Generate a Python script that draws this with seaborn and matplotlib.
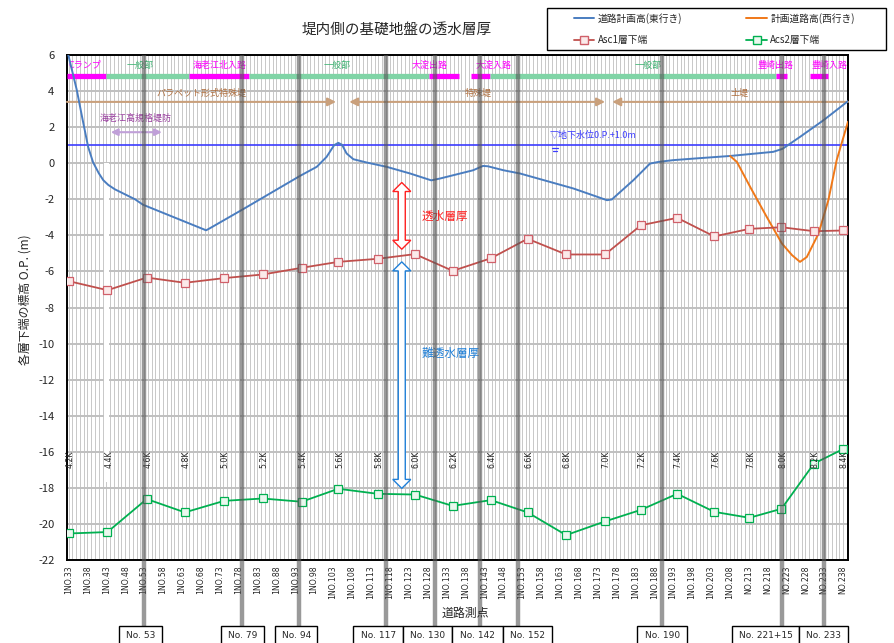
import matplotlib
matplotlib.use('Agg')
import matplotlib.pyplot as plt
import matplotlib.transforms as mtransforms
from matplotlib.patches import Polygon, Rectangle
from matplotlib.lines import Line2D
import seaborn as sns
import pandas as pd

# ---- data ----
k_stations = [33.1, 43.3, 53.7, 63.8, 74.2, 84.4, 94.7, 104.4, 114.8, 124.7, 134.7,
              144.8, 154.5, 164.7, 175.0, 184.5, 194.1, 203.9, 213.2, 221.7, 230.3, 238.0]
k_labels = ['4.2K', '4.4K', '4.6K', '4.8K', '5.0K', '5.2K', '5.4K', '5.6K', '5.8K', '6.0K', '6.2K',
            '6.4K', '6.6K', '6.8K', '7.0K', '7.2K', '7.4K', '7.6K', '7.8K', '8.0K', '8.2K', '8.4K']
asc1 = [-6.54, -7.04, -6.34, -6.63, -6.37, -6.17, -5.80, -5.47, -5.30, -5.04, -5.97,
        -5.27, -4.19, -5.06, -5.06, -3.44, -3.03, -4.06, -3.64, -3.55, -3.77, -3.73]
acs2 = [-20.53, -20.45, -18.62, -19.36, -18.72, -18.59, -18.77, -18.05, -18.33, -18.37, -19.00,
        -18.68, -19.36, -20.62, -19.86, -19.22, -18.33, -19.33, -19.66, -19.16, -16.65, -15.85]

east_st = [32.6, 35.2, 36.7, 38.2, 39.5, 41.0, 42.2, 43.5, 45.3, 50.6, 52.7, 68.6, 69.4, 70.3,
           79.2, 94.3, 98.7, 101.3, 103.3, 104.4, 105.4, 106.6, 108.4, 111.9, 117.2, 123.4,
           129.0, 131.3, 140.1, 142.7, 144.0, 148.1, 152.5, 166.6, 175.5, 176.8, 182.5, 186.9,
           189.1, 193.0, 200.0, 208.0, 219.5, 222.0, 226.6, 232.8, 239.3]
east_z = [6.3, 4.05, 2.45, 0.9, 0.05, -0.55, -0.94, -1.2, -1.45, -2.0, -2.3, -3.65, -3.72, -3.62,
          -2.55, -0.7, -0.2, 0.35, 1.0, 1.13, 1.02, 0.54, 0.22, 0.04, -0.2, -0.57,
          -0.95, -0.85, -0.39, -0.15, -0.17, -0.39, -0.57, -1.4, -2.05, -2.01, -0.94, -0.02,
          0.07, 0.17, 0.28, 0.4, 0.63, 0.8, 1.46, 2.38, 3.44]
west_st = [208.1, 209.9, 213.4, 217.8, 221.8, 224.5, 226.6, 228.4, 231.5, 234.1, 236.3, 239.3]
west_z = [0.4, 0.07, -1.31, -2.98, -4.45, -5.1, -5.47, -5.2, -3.9, -2.05, 0.17, 2.3]

tick_stations = list(range(33, 239, 5))
tick_labels = [('1NO.%d' if s <= 208 else 'NO.%d') % s for s in tick_stations]

key_stations = [53, 79, 94, 117, 130, 142, 152, 190, 221.75, 233]
key_names = ['No. 53', 'No. 79', 'No. 94', 'No. 117', 'No. 130', 'No. 142', 'No. 152',
             'No. 190', 'No. 221+15', 'No. 233']
key_box_left = [46.4, 73.4, 87.7, 108.4, 121.6, 134.5, 148.0, 183.5, 208.7, 226.2]
key_box_right = [57.7, 84.7, 98.8, 121.6, 134.5, 148.0, 161.0, 196.7, 226.2, 239.2]

bar_start = [32.7, 42.9, 64.9, 80.8, 128.4, 139.5, 144.6, 220.3, 229.3]
bar_end = [42.9, 64.9, 80.8, 128.4, 136.4, 144.6, 220.3, 223.2, 234.0]
bar_kind = ['ramp', 'gen', 'ramp', 'gen', 'ramp', 'ramp', 'gen', 'ramp', 'ramp']
sec_labels = ['Cランプ', '一般部', '海老江北入路', '一般部', '大淀出路', '大淀入路', '一般部', '豊崎出路', '豊崎入路']
sec_x = [32.9, 51.9, 73.0, 104.2, 128.6, 145.5, 186.4, 220.0, 239.2]
sec_kind = ['ramp', 'gen', 'ramp', 'gen', 'ramp', 'ramp', 'gen', 'ramp', 'ramp']

levee_labels = ['パラペット形式特殊堤', '特殊堤', '土堤']
levee_x = [68.1, 141.4, 210.7]
water_level = 1.0

BLUE = '#4a7dc0'
ORANGE = '#f07818'
RED = '#c0504d'
GREEN = '#00b050'
MAGENTA = '#ff00ff'
BARGREEN = '#80d4a6'
TAN = '#c9a07c'

sns.set_style('white')
plt.rcParams['font.family'] = ['Noto Sans CJK JP', 'DejaVu Sans']
plt.rcParams['axes.unicode_minus'] = False

fig = plt.figure(figsize=(8.95, 6.43), dpi=100)
ax = fig.add_axes([67 / 895, 1 - 560 / 643, 781 / 895, 505 / 643])

ax.set_xlim(32.6, 239.3)
ax.set_ylim(-22, 6)
ax.set_yticks(range(-22, 7, 2))
ax.set_xticks(tick_stations)
ax.set_xticklabels(tick_labels, rotation=90, fontsize=5.6, family='DejaVu Sans')
ax.set_xticks(range(33, 240), minor=True)
ax.tick_params(axis='y', length=0, pad=9, labelsize=8)
ax.tick_params(axis='x', which='both', direction='in', length=3, width=0.8, color='black', pad=4)
ax.yaxis.grid(True, color='#c0c0c0', lw=1.4)
ax.xaxis.grid(True, which='both', color='#c8c8c8', lw=0.7)
ax.set_axisbelow(True)
for sp in ax.spines.values():
    sp.set_color('black')
    sp.set_linewidth(1.4)

# white strip (label box artefact)
ax.add_patch(Rectangle((42.4, -17.7), 1.3, 17.7, fc='white', ec='none', zorder=1.5))

# water level
ax.axhline(water_level, color='#3c3cff', lw=1.2, zorder=2)
ax.text(160.4, 1.55, '▽地下水位0.P.+1.0m', color='#3c3cff', fontsize=6.5, va='center', ha='left')
ax.plot([160.9, 162.5], [0.82, 0.82], color='#3c3cff', lw=0.9)
ax.plot([161.2, 162.2], [0.7, 0.7], color='#3c3cff', lw=0.9)

# section bar
for s, e, k in zip(bar_start, bar_end, bar_kind):
    ax.plot([s, e], [4.83, 4.83], color=MAGENTA if k == 'ramp' else BARGREEN, lw=3.8,
            solid_capstyle='butt', zorder=3)
for t, x, k in zip(sec_labels, sec_x, sec_kind):
    ha = 'left' if x < 34 else ('right' if x > 238 else 'center')
    ax.text(x, 5.43, t, color=MAGENTA if k == 'ramp' else '#3cb371', fontsize=6.5,
            ha=ha, va='center', zorder=3)

# levee type arrows
ax.annotate('', xy=(103.8, 3.4), xytext=(32.6, 3.4),
            arrowprops=dict(arrowstyle='-|>', color=TAN, lw=1.5, mutation_scale=12, shrinkA=0, shrinkB=0))
ax.annotate('', xy=(175.0, 3.4), xytext=(107.3, 3.4),
            arrowprops=dict(arrowstyle='<|-|>', color=TAN, lw=1.5, mutation_scale=12, shrinkA=0, shrinkB=0))
ax.annotate('', xy=(176.9, 3.4), xytext=(239.3, 3.4),
            arrowprops=dict(arrowstyle='-|>', color=TAN, lw=1.5, mutation_scale=12, shrinkA=0, shrinkB=0))
for t, x in zip(levee_labels, levee_x):
    ax.text(x, 3.9, t, color='#b07040', fontsize=6.5, ha='center', va='center')

ax.text(50.9, 2.5, '海老江高規格堤防', color='#9a40a0', fontsize=6.5, ha='center', va='center')
ax.annotate('', xy=(57.7, 1.72), xytext=(44.2, 1.72),
            arrowprops=dict(arrowstyle='<|-|>', color='#c0a0d8', lw=1.5, mutation_scale=10, shrinkA=0, shrinkB=0))

# series
sns.lineplot(x=east_st, y=east_z, ax=ax, color=BLUE, lw=1.4, sort=False, zorder=4)
sns.lineplot(x=west_st, y=west_z, ax=ax, color=ORANGE, lw=1.4, sort=False, zorder=4)
df = pd.DataFrame({'st': k_stations, 'asc1': asc1, 'acs2': acs2})
sns.lineplot(data=df, x='st', y='asc1', ax=ax, color=RED, lw=1.3, marker='s', ms=5.5,
             markerfacecolor='#fbeaea', markeredgecolor='#d0606a', markeredgewidth=0.9, zorder=5)
sns.lineplot(data=df, x='st', y='acs2', ax=ax, color=GREEN, lw=1.3, marker='s', ms=5.5,
             markerfacecolor='#eaf8ee', markeredgecolor=GREEN, markeredgewidth=0.9, zorder=5)
ax.set_xlabel('')
ax.set_ylabel('')

for x, t in zip(k_stations, k_labels):
    ax.text(x + 0.3, -15.95, t, rotation=90, fontsize=5.6, family='DejaVu Sans',
            ha='center', va='top', zorder=6)


# hollow double arrows
def hollow_arrow(x, y0, y1, color):
    sx, sy = 1 / 3.778, 1 / 18.04
    hs, hh, hl = 3.5 * sx, 9 * sx, 9 * sy
    pts = [(x, y1), (x + hh, y1 - hl), (x + hs, y1 - hl), (x + hs, y0 + hl), (x + hh, y0 + hl),
           (x, y0), (x - hh, y0 + hl), (x - hs, y0 + hl), (x - hs, y1 - hl), (x - hh, y1 - hl)]
    ax.add_patch(Polygon(pts, closed=True, fc='white', ec=color, lw=1.0, zorder=6))


hollow_arrow(121.2, -4.77, -1.07, '#ff2020')
hollow_arrow(121.2, -18.03, -5.47, '#2080d8')
ax.text(126.5, -2.92, '透水層厚', color='#ff2020', fontsize=8.4, ha='left', va='center', zorder=6)
ax.text(126.5, -10.53, '難透水層厚', color='#2080d8', fontsize=8.4, ha='left', va='center', zorder=6)

# key station lines and boxes
blend = mtransforms.blended_transform_factory(ax.transData, ax.transAxes)
for s in key_stations:
    ax.plot([s, s], [-0.131, 1.0], transform=blend, color='#555555', alpha=0.6, lw=3.2,
            clip_on=False, zorder=7, solid_capstyle='butt')
for l, r, n in zip(key_box_left, key_box_right, key_names):
    ax.add_patch(Rectangle((l, -0.2), r - l, 0.069, transform=blend, fc='white', ec='black',
                           lw=1.0, clip_on=False, zorder=8))
    ax.text((l + r) / 2, -0.150, n, transform=blend, fontsize=6.5, family='DejaVu Sans',
            ha='center', va='center', zorder=9, clip_on=False)

fig.text(465 / 895, 1 - 613 / 643, '道路測点', fontsize=8.6, ha='center', va='center')
fig.text(25 / 895, 1 - 300 / 643, '各層下端の標高 O.P. (m)', fontsize=8.6, rotation=90,
         ha='center', va='center')
fig.text(396.5 / 895, 1 - 30 / 643, '堤内側の基礎地盤の透水層厚', fontsize=10.5,
         ha='center', va='center')

# legend: frame drawn separately, entries placed inside
fig.add_artist(Rectangle((547 / 895, 1 - 50 / 643), 339 / 895, 42 / 643, transform=fig.transFigure,
                         fc='white', ec='black', lw=1.0))
handles = [Line2D([], [], color=BLUE, lw=1.4),
           Line2D([], [], color=RED, lw=1.3, marker='s', ms=5.5, mfc='#fbeaea', mec='#d0606a'),
           Line2D([], [], color=ORANGE, lw=1.4),
           Line2D([], [], color=GREEN, lw=1.3, marker='s', ms=5.5, mfc='#eaf8ee', mec=GREEN)]
labels = ['道路計画高(東行き)', 'Asc1層下端', '計画道路高(西行き)', 'Acs2層下端']
leg = fig.legend(handles, labels, ncol=2, loc='center left',
                 bbox_to_anchor=(574 / 895, 1 - 29 / 643), fontsize=7, frameon=False,
                 handlelength=2.1, handletextpad=0.35, columnspacing=6.6,
                 borderpad=0, borderaxespad=0, labelspacing=1.15)

fig.savefig('out.png', dpi=100)
